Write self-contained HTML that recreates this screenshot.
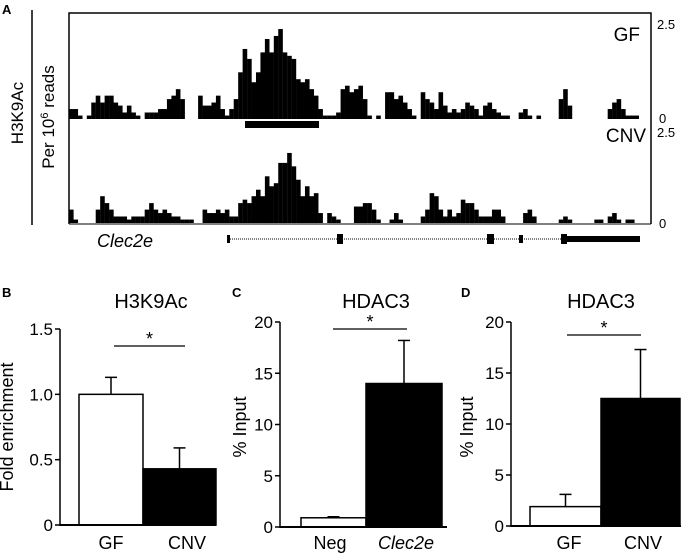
<!DOCTYPE html>
<html><head><meta charset="utf-8"><style>
html,body{margin:0;padding:0;background:#fff;}
svg{display:block;font-family:"Liberation Sans",Arial,sans-serif;}
</style></head><body>
<svg id="fig" width="698" height="555" viewBox="0 0 698 555" xmlns="http://www.w3.org/2000/svg">
<g id="panelA">
  <text x="2" y="14" font-size="13" font-weight="bold">A</text>
  <line x1="32" y1="10" x2="32" y2="225" stroke="#000" stroke-width="1.5"/>
  <text transform="translate(23,113) rotate(-90)" text-anchor="middle" font-size="17">H3K9Ac</text>
  <text transform="translate(54,117) rotate(-90)" text-anchor="middle" font-size="17">Per 10<tspan baseline-shift="super" font-size="11">6</tspan> reads</text>
  <polyline points="69,224 69,13 651,13 651,224" fill="none" stroke="#000" stroke-width="1.5"/>
  <line x1="69" y1="224" x2="651" y2="224" stroke="#000" stroke-width="1"/>
  <text x="640" y="41" text-anchor="end" font-size="19">GF</text>
  <text x="646" y="142" text-anchor="end" font-size="19">CNV</text>
  <text x="657" y="29" font-size="13">2.5</text>
  <text x="659" y="123" font-size="13">0</text>
  <text x="657" y="137" font-size="13">2.5</text>
  <text x="659" y="228" font-size="13">0</text>
  <rect x="245" y="121" width="74" height="7" fill="#000"/>
  <g id="gfTrack"></g>
  <g id="cnvTrack"></g>
  <text x="97" y="247" font-size="18" font-style="italic">Clec2e</text>
  <g>
    <line x1="228" y1="239" x2="566" y2="239" stroke="#555" stroke-width="1.5" stroke-dasharray="1,1"/>
    <rect x="227" y="235" width="3" height="8" fill="#000"/>
    <rect x="337" y="234" width="6" height="10" fill="#000"/>
    <rect x="487" y="234" width="7" height="10" fill="#000"/>
    <rect x="519" y="235" width="4" height="8" fill="#000"/>
    <rect x="561" y="234" width="6" height="10" fill="#000"/>
    <rect x="566" y="236" width="74" height="6" fill="#000"/>
  </g>
</g>
<g id="charts"></g>
</svg>
<script>
var gfValues=[0.26,0.26,0.09,0,0.09,0.43,0.61,0.43,0.61,0.61,0.43,0.35,0.17,0.35,0.17,0.09,0,0.17,0.17,0.17,0.26,0.26,0.52,0.61,0.78,0.52,0,0,0,0.61,0.35,0.35,0.43,0.61,0.26,0.09,0.26,0.52,1.22,1.83,1.57,0.96,1.22,1.74,2.09,1.74,2.17,2.35,1.74,1.65,1.57,1.04,0.96,1.04,0.78,0.61,0.26,0.09,0.09,0.09,0.17,0.78,0.87,0.70,0.78,0.87,0.52,0.09,0,0.09,0,0.70,0.70,0.52,0.61,0.43,0.26,0.09,0,0.70,0.52,0.43,0.26,0.70,0.35,0.17,0.26,0.17,0.26,0.43,0.35,0.26,0.09,0.35,0.43,0.26,0.17,0.09,0.09,0,0,0.17,0.26,0.09,0,0.09,0,0,0,0,0.52,0.78,0.35,0,0,0,0,0,0,0,0,0.26,0.43,0.52,0.26,0.09,0.09,0.09,0,0,0];
var cnvValues=[0.35,0.09,0,0,0,0,0.35,0.70,0.52,0.35,0.17,0.17,0.17,0.09,0.17,0.17,0.17,0.35,0.52,0.35,0.26,0.35,0.26,0.17,0.17,0.09,0.09,0.09,0,0,0.35,0.26,0.26,0.35,0.26,0.35,0.17,0.17,0.52,0.61,0.52,0.70,0.87,0.70,1.22,0.96,1.04,1.57,1.57,1.83,1.48,1.13,0.70,0.96,0.70,0.78,0.26,0,0.26,0.17,0.09,0,0,0,0.43,0.43,0.52,0.52,0.35,0.09,0,0,0.09,0.26,0.09,0,0,0,0,0.17,0.35,0.78,0.70,0.35,0.17,0.35,0.17,0.26,0.61,0.52,0.52,0.35,0.17,0.17,0.17,0.35,0.35,0.17,0,0,0,0,0.26,0.35,0.17,0,0,0,0,0,0.09,0.17,0.09,0,0,0,0,0,0.09,0.09,0,0.17,0.26,0.09,0,0.09,0.09,0,0,0,0];
var trackMax=2.5;
var NS="http://www.w3.org/2000/svg";
function mk(tag,attrs,parent){var e=document.createElementNS(NS,tag);for(var k in attrs)e.setAttribute(k,attrs[k]);parent.appendChild(e);return e;}
function trackX(i){return 69+i*4.452;}
function drawTrack(vals,gid,y0,name){
  var g=document.getElementById(gid);var scale=95.7/trackMax;
  for(var i=0;i<vals.length;i++){if(vals[i]<=0)continue;var h=vals[i]*scale;
    var r=mk('rect',{x:trackX(i),y:y0-h,width:4.6,height:h,fill:'#000'},g);
    
    }
}
drawTrack(gfValues,'gfTrack',119,'gf-coverage-bin');
drawTrack(cnvValues,'cnvTrack',223,'cnv-coverage-bin');

// Bar charts
var bCats=["GF","CNV"],bVals=[1.0,0.43],bErr=[1.13,0.59],bTicks=["0","0.5","1.0","1.5"],bTickVals=[0,0.5,1.0,1.5];
var cCats=["Neg","Clec2e"],cVals=[0.9,14.0],cErr=[1.0,18.2],cTicks=["0","5","10","15","20"],cTickVals=[0,5,10,15,20];
var dCats=["GF","CNV"],dVals=[1.9,12.5],dErr=[3.1,17.3],dTicks=["0","5","10","15","20"],dTickVals=[0,5,10,15,20];
var root=document.getElementById('charts');
function chart(o){
  var g=mk('g',{},root);
  
  
  function y(v){return o.y0-(v/o.max)*(o.y0-o.yTop);}
  var t=mk('text',{x:o.letterX,y:297,'font-size':13,'font-weight':'bold'},g);t.textContent=o.letter;
  
  
  t=mk('text',{x:o.titleX,y:308,'font-size':20,'text-anchor':'middle'},g);t.textContent=o.title;
  
  
  t=mk('text',{transform:'translate('+o.ylabX+','+427+') rotate(-90)','font-size':18,'text-anchor':'middle'},g);t.textContent=o.ylab;
  
  
  var a=mk('line',{x1:o.ax,y1:o.yTop,x2:o.ax,y2:o.y0+1,stroke:'#000','stroke-width':1.5},g);
  
  
  for(var i=0;i<o.ticks.length;i++){var ty=y(o.tickVals[i]);
    var l=mk('line',{x1:o.ax-5,y1:ty,x2:o.ax,y2:ty,stroke:'#000','stroke-width':1.5},g);
    
    
    var tl=mk('text',{x:o.ax-7,y:ty+6,'font-size':17,'text-anchor':'end'},g);tl.textContent=o.ticks[i];
    
    }
  for(var j=0;j<o.cats.length;j++){
    var bx=o.barX[j],bw=o.barW[j],cx=bx+bw/2;
    var el=mk('line',{x1:cx,y1:y(o.vals[j]),x2:cx,y2:y(o.err[j]),stroke:'#000','stroke-width':1.5},g);
    
    
    var ec=mk('line',{x1:cx-6,y1:y(o.err[j]),x2:cx+6,y2:y(o.err[j]),stroke:'#000','stroke-width':1.5},g);
    
    
    var r=mk('rect',{x:bx,y:y(o.vals[j]),width:bw,height:o.y0-y(o.vals[j]),fill:j==0?'#fff':'#000',stroke:'#000','stroke-width':1.5},g);
    
    
    var xl=mk('text',{x:o.labX[j],y:549,'font-size':18,'text-anchor':'middle','font-style':o.italic[j]?'italic':'normal'},g);xl.textContent=o.cats[j];
    
    }
  var xa=mk('line',{x1:o.ax,y1:o.y0,x2:o.axEnd,y2:o.y0,stroke:'#000','stroke-width':2},g);
  
  
  var s=mk('line',{x1:o.sig[0],y1:o.sig[2],x2:o.sig[1],y2:o.sig[2],stroke:'#000','stroke-width':1.2},g);
  
  
  var st=mk('text',{x:(o.sig[0]+o.sig[1])/2,y:o.sig[2]-1,'font-size':18,'text-anchor':'middle'},g);st.textContent='*';
  
  
}
chart({name:'chart-b-h3k9ac',letter:'B',letterX:2,title:'H3K9Ac',titleX:151,ylab:'Fold enrichment',ylabX:13,ax:60,axEnd:216,y0:525,yTop:329,max:1.5,ticks:bTicks,tickVals:bTickVals,cats:bCats,vals:bVals,err:bErr,barX:[79,143],barW:[64,73],labX:[111,187],italic:[0,0],sig:[114,185,346]});
chart({name:'chart-c-hdac3',letter:'C',letterX:232,title:'HDAC3',titleX:376,ylab:'% Input',ylabX:246,ax:280,axEnd:447,y0:527,yTop:322,max:20,ticks:cTicks,tickVals:cTickVals,cats:cCats,vals:cVals,err:cErr,barX:[301,366],barW:[65,76],labX:[330,406],italic:[0,1],sig:[333,407,329]});
chart({name:'chart-d-hdac3',letter:'D',letterX:461,title:'HDAC3',titleX:601,ylab:'% Input',ylabX:473,ax:511,axEnd:681,y0:526,yTop:322,max:20,ticks:dTicks,tickVals:dTickVals,cats:dCats,vals:dVals,err:dErr,barX:[530,601],barW:[71,79],labX:[569,643],italic:[0,0],sig:[567,641,335]});
</script>
</body></html>
